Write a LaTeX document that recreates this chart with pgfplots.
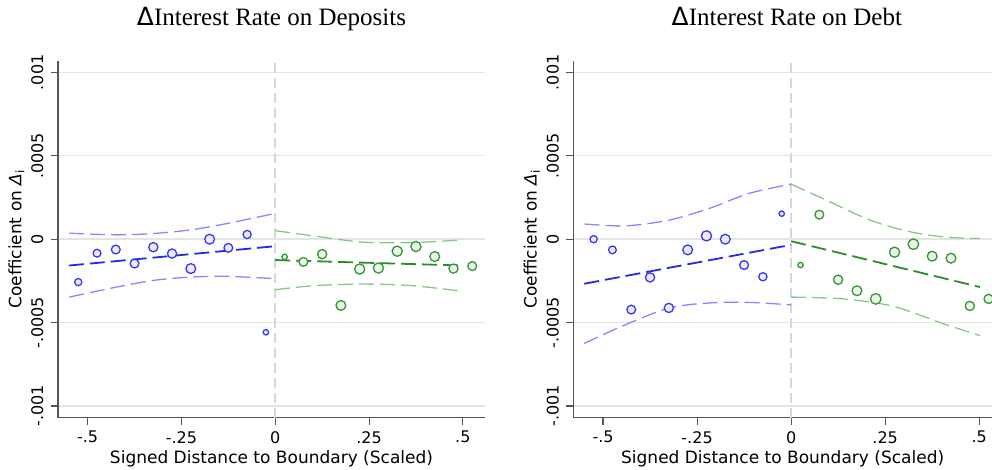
\documentclass[border=0pt]{standalone}
\usepackage{pgfplots}
\pgfplotsset{compat=1.18}
\usepackage{pgfplotstable}
\usepackage{fontspec}
\setmainfont{DejaVu Sans}
\newfontfamily\titlefont{Liberation Serif}
\newfontfamily\dejavu{DejaVu Sans}

\definecolor{bmark}{RGB}{55,55,245}
\definecolor{bfill}{RGB}{236,236,252}
\definecolor{bfit}{RGB}{40,40,232}
\definecolor{bci}{RGB}{135,135,255}
\definecolor{gmark}{RGB}{52,150,52}
\definecolor{gfill}{RGB}{234,244,234}
\definecolor{gfit}{RGB}{42,140,42}
\definecolor{gci}{RGB}{135,200,135}
\definecolor{axisgray}{RGB}{85,85,85}
\definecolor{gridgray}{RGB}{228,228,228}
\definecolor{zerogray}{RGB}{215,215,215}

% ---- Left panel: Deposits ----
\pgfplotstableread{
x y r
-0.525 -0.000257 3.6
-0.475 -0.000084 3.9
-0.425 -0.000062 4.4
-0.375 -0.000146 4.4
-0.325 -0.000048 4.6
-0.275 -0.000086 4.6
-0.225 -0.000176 4.9
-0.175 0.000000 4.9
-0.125 -0.000052 4.4
-0.075 0.000028 4.1
-0.025 -0.000558 2.7
}\depB
\pgfplotstableread{
x y r
0.025 -0.000106 2.7
0.075 -0.000136 4.4
0.125 -0.000090 4.6
0.175 -0.000397 4.9
0.225 -0.000179 5.1
0.275 -0.000173 5.1
0.325 -0.000072 5.1
0.375 -0.000044 5.1
0.425 -0.000104 4.9
0.475 -0.000176 4.6
0.525 -0.000161 4.4
}\depG
% ---- Right panel: Debt ----
\pgfplotstableread{
x y r
-0.525 0.000000 3.6
-0.475 -0.000064 3.9
-0.425 -0.000422 4.4
-0.375 -0.000229 4.6
-0.325 -0.000412 4.6
-0.275 -0.000064 4.9
-0.225 0.000020 5.1
-0.175 0.000000 4.9
-0.125 -0.000155 4.4
-0.075 -0.000225 4.1
-0.025 0.000153 2.7
}\debB
\pgfplotstableread{
x y r
0.025 -0.000155 2.7
0.075 0.000147 4.4
0.125 -0.000243 4.6
0.175 -0.000309 4.9
0.225 -0.000358 5.3
0.275 -0.000078 5.1
0.325 -0.000030 5.3
0.375 -0.000102 4.9
0.425 -0.000114 4.9
0.475 -0.000400 4.6
0.525 -0.000358 4.6
}\debG

\pgfplotsset{
  rdstyle/.style={
    scale only axis,
    height=357pt,
    ymin=-0.00107, ymax=0.00107,
    xmin=-0.579,
    axis x line*=bottom, axis y line*=left,
    axis line style={color=axisgray, line width=1.1pt},
    tick style={color=axisgray, line width=1.1pt},
    tick align=outside,
    major tick length=7pt,
    ymajorgrids,
    grid style={color=gridgray, line width=1.4pt},
    scaled y ticks=false, scaled x ticks=false,
    xtick={-0.5,-0.25,0,0.25,0.5},
    xticklabels={-.5,-.25,0,.25,.5},
    ytick={-0.001,-0.0005,0,0.0005,0.001},
    yticklabels={-.001,-.0005,0,.0005,.001},
    yticklabel style={rotate=90, anchor=south},
    yticklabel shift=4pt,
    xticklabel shift=3pt,
    tick label style={font=\fontsize{16}{16}\selectfont, text=black},
    label style={font=\fontsize{17}{17}\selectfont},
    xlabel={Signed Distance to Boundary (Scaled)},
    ylabel={Coefficient on {\itshape Δ}\textsubscript{i}},
    clip=true,
  },
  mk/.style 2 args={scatter, only marks, mark=*, point meta=y,
    scatter/use mapped color={draw=#1, fill=#2},
    visualization depends on={\thisrow{r} \as \rad},
    scatter/@pre marker code/.append style={/tikz/mark size=\rad},
    mark options={line width=1.3pt}},
  fitline/.style={#1, line width=1.8pt, dash pattern=on 15pt off 6pt},
  ciline/.style={#1, line width=1.3pt, dash pattern=on 15pt off 6pt, smooth},
  zeroline/.style={zerogray, line width=1.8pt, dash pattern=on 10pt off 5pt},
}

\begin{document}
\begin{tikzpicture}
\useasboundingbox (0pt,0pt) rectangle (992pt,470pt);

\begin{axis}[rdstyle, width=427pt, xmax=0.559, at={(58pt,52.3pt)}, anchor=south west]
\addplot[zeroline] coordinates {(0,-0.00107) (0,0.00107)};
\addplot[ciline=bci] coordinates {(-0.549,0.000036) (-0.423,0.000026) (-0.325,0.000034) (-0.225,0.000056) (-0.124,0.000096) (0,0.000155)};
\addplot[ciline=bci] coordinates {(-0.549,-0.000347) (-0.423,-0.000287) (-0.325,-0.000247) (-0.225,-0.000227) (-0.124,-0.000223) (0,-0.000237)};
\addplot[fitline=bfit] coordinates {(-0.55,-0.000158) (0,-0.000042)};
\addplot[ciline=gci] coordinates {(0,0.000051) (0.101,0.000020) (0.235,-0.000018) (0.368,-0.000020) (0.5,-0.000004)};
\addplot[ciline=gci] coordinates {(0,-0.000303) (0.101,-0.000279) (0.235,-0.000269) (0.368,-0.000279) (0.5,-0.000313)};
\addplot[fitline=gfit] coordinates {(0,-0.000125) (0.5,-0.000158)};
\addplot[mk={bmark}{bfill}] table[x=x,y=y] \depB;
\addplot[mk={gmark}{gfill}] table[x=x,y=y] \depG;
\end{axis}

\begin{axis}[rdstyle, width=418.7pt, xmax=0.534, at={(573.3pt,52.3pt)}, anchor=south west]
\addplot[zeroline] coordinates {(0,-0.00107) (0,0.00107)};
\addplot[ciline=bci] coordinates {(-0.549,0.000091) (-0.44,0.000080) (-0.323,0.000115) (-0.217,0.000185) (-0.111,0.000275) (0,0.000330)};
\addplot[ciline=bci] coordinates {(-0.55,-0.000625) (-0.44,-0.000512) (-0.323,-0.000412) (-0.217,-0.000382) (-0.111,-0.000379) (0,-0.000394)};
\addplot[fitline=bfit] coordinates {(-0.55,-0.000267) (0,-0.000034)};
\addplot[ciline=gci] coordinates {(0,0.000330) (0.093,0.000235) (0.209,0.000115) (0.315,0.000045) (0.413,0.000012) (0.502,0.0000036)};
\addplot[ciline=gci] coordinates {(0,-0.000347) (0.138,-0.000358) (0.271,-0.000402) (0.404,-0.000506) (0.502,-0.000578)};
\addplot[fitline=gfit] coordinates {(0,-0.000012) (0.502,-0.000287)};
\addplot[mk={bmark}{bfill}] table[x=x,y=y] \debB;
\addplot[mk={gmark}{gfill}] table[x=x,y=y] \debG;
\end{axis}

\node[anchor=base, font=\fontsize{25}{25}\selectfont] at (271.5pt,444.3pt) {{\dejavu Δ}{\titlefont Interest Rate on Deposits}};
\node[anchor=base, font=\fontsize{25}{25}\selectfont] at (786.8pt,444.3pt) {{\dejavu Δ}{\titlefont Interest Rate on Debt}};
\end{tikzpicture}
\end{document}
